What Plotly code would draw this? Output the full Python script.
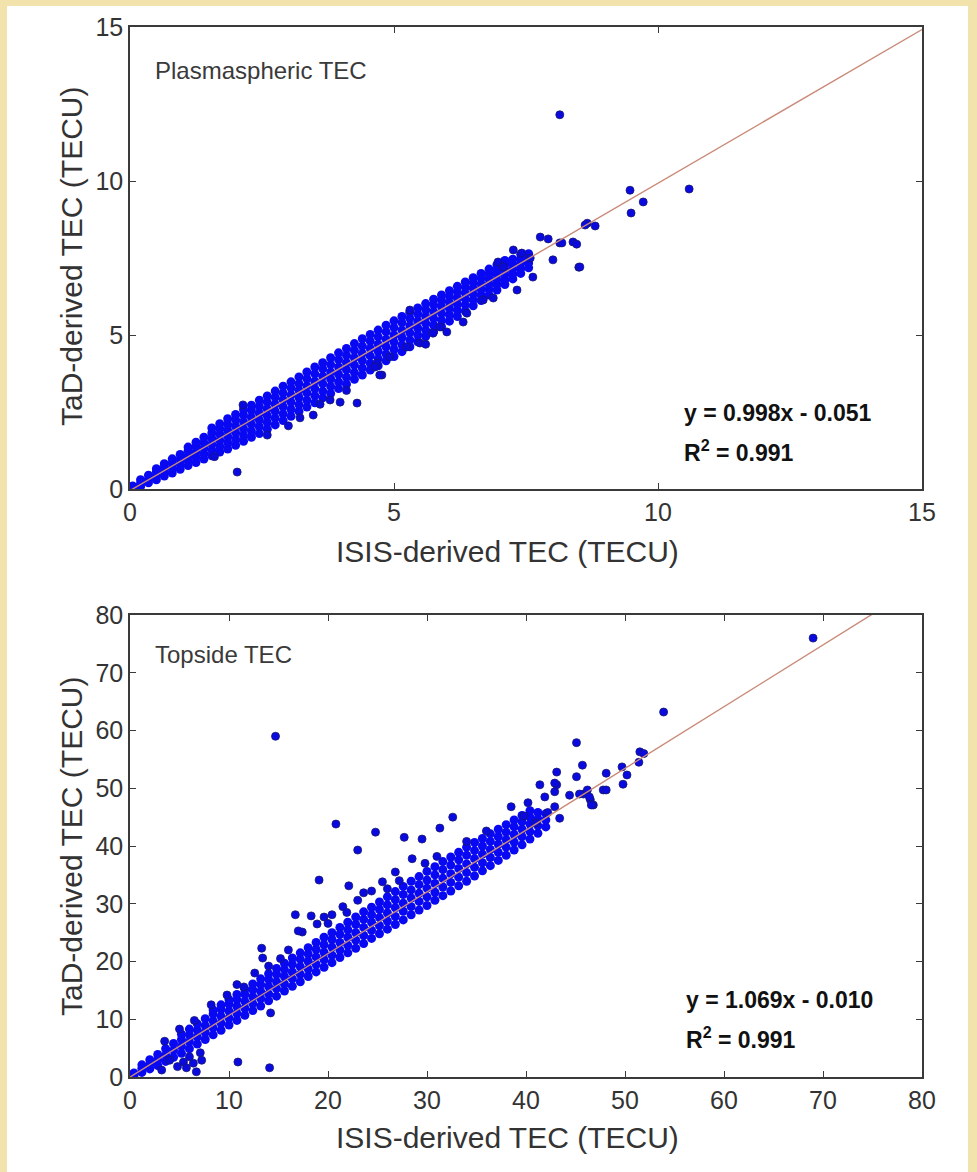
import plotly.graph_objects as go

# ---------------- data ----------------
# Panel 1: plasmaspheric TEC, dense band given as x columns with their y values
PL_COL_X = [0.05, 0.2, 0.35, 0.5, 0.65, 0.8, 0.95, 1.1, 1.25, 1.4, 1.55, 1.7, 1.85, 2.0,
            2.15, 2.3, 2.45, 2.6, 2.75, 2.9, 3.05, 3.2, 3.35, 3.5, 3.65, 3.8, 3.95, 4.1,
            4.25, 4.4, 4.55, 4.7, 4.85, 5.0, 5.15, 5.3, 5.45, 5.6, 5.75, 5.9, 6.05, 6.2,
            6.35, 6.5, 6.65, 6.8, 6.95, 7.1, 7.25, 7.4, 7.55]
PL_COL_Y = [
    [0.02, 0.1], [0.08, 0.18, 0.3], [0.2, 0.32, 0.45], [0.3, 0.43, 0.56, 0.66],
    [0.42, 0.56, 0.7, 0.82], [0.52, 0.68, 0.84, 0.98], [0.64, 0.8, 0.96, 1.12],
    [0.76, 0.92, 1.08, 1.24, 1.36], [0.86, 1.03, 1.2, 1.37, 1.52],
    [0.97, 1.14, 1.32, 1.5, 1.68], [1.08, 1.26, 1.45, 1.64, 1.82, 1.98],
    [1.2, 1.38, 1.58, 1.78, 1.96, 2.12], [1.3, 1.5, 1.7, 1.9, 2.1, 2.28],
    [1.42, 1.62, 1.83, 2.04, 2.25, 2.42], [1.55, 1.75, 1.96, 2.18, 2.4, 2.58],
    [1.68, 1.88, 2.1, 2.32, 2.55, 2.72], [1.8, 2.02, 2.24, 2.46, 2.68, 2.88],
    [1.94, 2.16, 2.38, 2.6, 2.82, 3.02], [2.08, 2.3, 2.52, 2.75, 2.98, 3.18],
    [2.22, 2.44, 2.67, 2.9, 3.12, 3.34], [2.36, 2.58, 2.82, 3.05, 3.28, 3.48],
    [2.52, 2.74, 2.97, 3.2, 3.42, 3.64], [2.66, 2.88, 3.12, 3.35, 3.58, 3.8],
    [2.8, 3.03, 3.26, 3.5, 3.74, 3.96], [2.96, 3.18, 3.42, 3.66, 3.9, 4.1],
    [3.1, 3.33, 3.57, 3.8, 4.04, 4.26], [3.26, 3.48, 3.72, 3.96, 4.2, 4.42],
    [3.4, 3.63, 3.87, 4.1, 4.34, 4.56], [3.56, 3.78, 4.02, 4.26, 4.5, 4.72],
    [3.7, 3.93, 4.17, 4.4, 4.64, 4.88], [3.86, 4.08, 4.32, 4.56, 4.8, 5.02],
    [4.0, 4.23, 4.47, 4.7, 4.94, 5.16], [4.16, 4.38, 4.62, 4.86, 5.1, 5.32],
    [4.3, 4.53, 4.77, 5.0, 5.24, 5.46], [4.46, 4.68, 4.92, 5.16, 5.4, 5.6],
    [4.62, 4.84, 5.07, 5.3, 5.54, 5.74], [4.78, 5.0, 5.22, 5.45, 5.68, 5.88],
    [4.95, 5.16, 5.38, 5.6, 5.82, 6.02], [5.1, 5.32, 5.54, 5.76, 5.98, 6.16],
    [5.27, 5.48, 5.7, 5.92, 6.12, 6.3], [5.45, 5.65, 5.86, 6.06, 6.26, 6.44],
    [5.6, 5.8, 6.0, 6.2, 6.4, 6.58], [5.78, 5.98, 6.17, 6.36, 6.55, 6.72],
    [5.95, 6.14, 6.33, 6.52, 6.7, 6.86], [6.12, 6.3, 6.48, 6.66, 6.84, 7.0],
    [6.3, 6.48, 6.65, 6.82, 6.98, 7.14], [6.46, 6.64, 6.8, 6.97, 7.12, 7.28],
    [6.64, 6.8, 6.96, 7.12, 7.28, 7.42], [6.82, 6.98, 7.14, 7.3, 7.46],
    [7.0, 7.16, 7.32, 7.48, 7.62], [7.18, 7.34, 7.5, 7.64]]
# Panel 1: scattered points
PL_SC_X = [3.22, 3.47, 3.79, 3.98, 4.30, 4.77, 4.68, 5.49, 5.74, 6.31, 6.38, 6.69, 5.30,
           2.14, 2.03, 4.73, 4.64, 4.92, 5.24, 5.87, 6.88, 7.33, 7.63, 8.01, 8.50, 6.97,
           7.77, 7.92, 8.14, 8.39, 8.66, 8.81, 7.42, 7.58, 7.26, 7.07, 9.47, 9.72, 9.49,
           10.59, 8.62, 8.46, 8.18, 8.52, 8.14, 2.6, 3.0, 1.6, 3.6, 4.1, 5.6, 6.0]
PL_SC_Y = [2.31, 2.40, 2.89, 2.82, 2.79, 3.70, 4.09, 4.74, 5.06, 5.42, 5.71, 6.14, 5.81,
           2.73, 0.55, 3.70, 3.96, 4.29, 4.61, 5.26, 6.20, 6.46, 6.88, 7.44, 7.20, 7.37,
           8.18, 8.12, 7.99, 8.02, 8.63, 8.54, 7.66, 7.50, 7.76, 7.21, 9.70, 9.32, 8.96,
           9.74, 8.57, 7.95, 7.99, 7.21, 12.15, 1.75, 2.05, 1.05, 2.75, 3.2, 4.7, 5.1]

# Panel 2: topside TEC, dense band as x columns with their y values
TS_COL_X = [0.4, 1.2, 2.0, 2.8, 3.6, 4.4, 5.2, 6.0, 6.8, 7.6, 8.4, 9.2, 10.0, 10.8,
            11.6, 12.4, 13.2, 14.0, 14.8, 15.6, 16.4, 17.2, 18.0, 18.8, 19.6, 20.4,
            21.2, 22.0, 22.8, 23.6, 24.4, 25.2, 26.0, 26.8, 27.6, 28.4, 29.2, 30.0,
            30.8, 31.6, 32.4, 33.2, 34.0, 34.8, 35.6, 36.4, 37.2, 38.0, 38.8, 39.6,
            40.4, 41.2, 42.0]
TS_COL_Y = [
    [0.2, 0.7], [0.8, 1.5, 2.1], [1.4, 2.2, 3.0], [2.0, 3.0, 3.9], [2.7, 3.8, 4.9],
    [3.4, 4.6, 5.8], [4.1, 5.3, 6.5, 7.4], [4.9, 6.1, 7.3, 8.3], [5.7, 6.9, 8.1, 9.2],
    [6.5, 7.7, 8.9, 10.1], [7.3, 8.5, 9.7, 10.9, 11.6], [8.1, 9.3, 10.5, 11.7, 12.5],
    [9.0, 10.2, 11.4, 12.6, 13.4], [9.8, 11.0, 12.2, 13.4, 14.3],
    [10.7, 11.9, 13.1, 14.3, 15.2], [11.5, 12.7, 13.9, 15.1, 16.1],
    [12.3, 13.6, 14.8, 16.0, 17.0], [13.2, 14.4, 15.7, 16.9, 17.9],
    [14.0, 15.3, 16.5, 17.8, 18.8], [14.9, 16.1, 17.4, 18.6, 19.7],
    [15.7, 17.0, 18.2, 19.5, 20.6], [16.5, 17.8, 19.1, 20.4, 21.5],
    [17.4, 18.7, 20.0, 21.3, 22.4], [18.2, 19.5, 20.8, 22.1, 23.3],
    [19.0, 20.3, 21.6, 22.9, 24.2], [19.8, 21.1, 22.5, 23.8, 25.0],
    [20.7, 22.0, 23.3, 24.7, 25.9], [21.5, 22.8, 24.2, 25.5, 26.8],
    [22.3, 23.7, 25.0, 26.4, 27.7], [23.1, 24.5, 25.9, 27.3, 28.6],
    [24.0, 25.4, 26.8, 28.1, 29.4], [24.8, 26.2, 27.6, 29.0, 30.3],
    [25.6, 27.0, 28.4, 29.8, 31.2], [26.4, 27.8, 29.3, 30.7, 32.1],
    [27.2, 28.7, 30.1, 31.6, 33.0], [28.1, 29.5, 31.0, 32.4, 33.9],
    [28.9, 30.4, 31.8, 33.3, 34.7], [29.7, 31.2, 32.7, 34.1, 35.6],
    [30.6, 32.0, 33.5, 35.0, 36.4], [31.4, 32.9, 34.4, 35.9, 37.3],
    [32.2, 33.7, 35.2, 36.7, 38.1], [33.1, 34.6, 36.1, 37.6, 38.9],
    [33.9, 35.4, 36.9, 38.4, 39.8], [34.8, 36.3, 37.8, 39.2, 40.6],
    [35.7, 37.1, 38.6, 40.0, 41.3], [36.6, 38.0, 39.4, 40.8, 42.1],
    [37.5, 38.9, 40.3, 41.6, 42.9], [38.4, 39.8, 41.1, 42.4, 43.7],
    [39.3, 40.7, 42.0, 43.3, 44.5], [40.2, 41.6, 42.9, 44.2, 45.3],
    [41.2, 42.5, 43.8, 45.0, 46.1], [42.2, 43.5, 44.7, 45.8], [43.3, 44.5, 45.6]]
# Panel 2: scattered points
TS_SC_X = [14.7, 20.8, 24.8, 23.0, 27.7, 29.5, 31.3, 32.6, 19.1, 22.1, 23.6, 24.4, 16.7,
           18.3, 20.4, 19.6, 17.4, 16.0, 13.3, 13.4, 17.0, 18.9, 21.5, 25.5, 26.8, 28.5,
           11.5, 9.8, 8.2, 12.6, 15.2, 14.0, 6.5, 5.0, 3.5, 10.8,
           14.2, 10.9, 14.1, 7.1, 7.24, 6.4, 5.4, 5.7, 6.7, 4.0, 6.0, 4.8, 3.2,
           38.5, 41.4, 43.1, 45.1, 45.7, 45.1, 43.1, 41.9, 44.4, 43.4, 46.5, 46.8, 45.8,
           69.0, 53.9, 49.7, 51.5, 51.9, 51.4, 50.2, 49.8, 48.1, 47.8, 48.1, 46.2, 46.4,
           46.6, 45.4, 42.9, 42.9, 42.9, 40.2, 39.8, 41.0, 42.2,
           20.0, 21.9, 23.0, 26.0, 27.2, 29.8, 31.0, 34.0, 36.0]
TS_SC_Y = [59.0, 43.8, 42.4, 39.3, 41.5, 41.2, 43.1, 45.0, 34.1, 33.1, 31.9, 32.2, 28.1,
           27.9, 28.1, 27.7, 25.1, 22.0, 22.3, 20.6, 25.3, 26.5, 29.5, 33.8, 35.5, 37.8,
           15.6, 14.2, 12.5, 18.0, 20.5, 19.2, 9.8, 8.3, 6.2, 16.0,
           11.1, 2.6, 1.6, 4.2, 2.9, 2.4, 2.6, 1.6, 0.9, 2.9, 3.5, 1.8, 1.2,
           46.8, 50.6, 52.8, 57.9, 54.0, 52.0, 50.6, 48.5, 48.8, 44.8, 48.0, 47.1, 49.0,
           76.0, 63.2, 53.7, 56.3, 56.0, 54.5, 52.3, 50.7, 52.6, 49.7, 49.7, 49.7, 48.5,
           47.1, 49.0, 46.8, 50.9, 49.4, 47.5, 45.2, 44.0, 45.8,
           26.6, 28.5, 30.6, 32.6, 34.0, 37.0, 38.2, 40.8, 42.6]

# regression lines  y = a x + b
PL_FIT = (0.998, -0.051)
TS_FIT = (1.069, -0.010)
PL_XMAX, TS_XMAX = 15, 80

# tick labels
PL_TICKS = [0, 5, 10, 15]
TS_TICKS = [0, 10, 20, 30, 40, 50, 60, 70, 80]

# ---------------- figure ----------------
W, H = 977, 1172
ML, MR, MT, MB = 130, 55, 27, 95
PW, PH = W - ML - MR, H - MT - MB

def flatten(cx, cy):
    xs, ys = [], []
    for x, col in zip(cx, cy):
        for y in col:
            xs.append(x)
            ys.append(y)
    return xs, ys

FONT = "Liberation Sans, Arial, sans-serif"
MARK_BAND = dict(size=9, color="#0808f2", line=dict(width=0))
MARK_SC = dict(size=8, color="#0a0ae0", line=dict(width=0.8, color="#161670"))
LINE_COL = "#c98a78"
AX_COL = "#3a3a3a"
TXT_COL = "#333333"

fig = go.Figure()

pbx, pby = flatten(PL_COL_X, PL_COL_Y)
tbx, tby = flatten(TS_COL_X, TS_COL_Y)

for xs, ys, ax, mk in [(pbx, pby, ("x", "y"), MARK_BAND),
                       (PL_SC_X, PL_SC_Y, ("x", "y"), MARK_SC),
                       (tbx, tby, ("x2", "y2"), MARK_BAND),
                       (TS_SC_X, TS_SC_Y, ("x2", "y2"), MARK_SC)]:
    fig.add_trace(go.Scatter(x=xs, y=ys, mode="markers", marker=mk,
                             xaxis=ax[0], yaxis=ax[1], showlegend=False, hoverinfo="skip"))

a, b = PL_FIT
fig.add_trace(go.Scatter(x=[0, PL_XMAX], y=[b, a * PL_XMAX + b], mode="lines",
                         line=dict(color=LINE_COL, width=1.4), xaxis="x", yaxis="y",
                         showlegend=False, hoverinfo="skip"))
a, b = TS_FIT
fig.add_trace(go.Scatter(x=[0, TS_XMAX], y=[b, a * TS_XMAX + b], mode="lines",
                         line=dict(color=LINE_COL, width=1.4), xaxis="x2", yaxis="y2",
                         showlegend=False, hoverinfo="skip"))

top1 = 1.0
bot1 = (1077 - 489) / PH
top2 = (1077 - 615) / PH
bot2 = 0.0

def axis(rng, ticks, domain, anchor):
    return dict(range=rng, tickvals=ticks, ticktext=[str(t) for t in ticks],
                domain=domain, anchor=anchor, showgrid=False, zeroline=False,
                showline=True, mirror="ticks", linecolor=AX_COL, linewidth=1.6,
                ticks="inside", ticklen=6, tickwidth=1.3, tickcolor=AX_COL,
                tickfont=dict(family=FONT, size=25, color=TXT_COL),
                fixedrange=True)

fig.update_layout(
    width=W, height=H,
    margin=dict(l=ML, r=MR, t=MT, b=MB, autoexpand=False),
    paper_bgcolor="#f2e3ad", plot_bgcolor="white",
    xaxis=axis([0, PL_XMAX], PL_TICKS, [0, 1], "y"),
    yaxis=axis([0, 15], PL_TICKS, [bot1, top1], "x"),
    xaxis2=axis([0, TS_XMAX], TS_TICKS, [0, 1], "y2"),
    yaxis2=axis([0, 80], TS_TICKS, [bot2, top2], "x2"),
)

# white page area inside the beige frame
fig.add_shape(type="rect", xref="paper", yref="paper", layer="below",
              x0=(7 - ML) / PW, x1=(968 - ML) / PW,
              y0=(1077 - 1180) / PH, y1=(1077 - 6) / PH,
              fillcolor="white", line=dict(width=0))

def px_x(p):
    return (p - ML) / PW

def px_y(p):
    return (1077 - p) / PH

title_font = dict(family=FONT, size=30, color=TXT_COL)
for cy in (551, 1137):
    fig.add_annotation(x=px_x(507), y=px_y(cy), xref="paper", yref="paper",
                       text="ISIS-derived TEC (TECU)", showarrow=False,
                       xanchor="center", yanchor="middle", font=title_font)
for cy in (256, 846):
    fig.add_annotation(x=px_x(71), y=px_y(cy), xref="paper", yref="paper",
                       text="TaD-derived TEC (TECU)", showarrow=False, textangle=-90,
                       xanchor="center", yanchor="middle", font=title_font)

ann_font = dict(family=FONT, size=24, color="#3a3a3a")
eq_font = dict(family=FONT, size=23, color="#111111")
fig.add_annotation(x=0.44, y=13.6, xref="x", yref="y", text="Plasmaspheric TEC",
                   showarrow=False, xanchor="left", yanchor="middle", font=ann_font)
fig.add_annotation(x=2.3, y=73.2, xref="x2", yref="y2", text="Topside TEC",
                   showarrow=False, xanchor="left", yanchor="middle", font=ann_font)
fig.add_annotation(x=10.45, y=2.47, xref="x", yref="y", text="<b>y = 0.998x - 0.051</b>",
                   showarrow=False, xanchor="left", yanchor="middle", font=eq_font)
fig.add_annotation(x=10.45, y=1.23, xref="x", yref="y", text="<b>R<sup>2</sup> = 0.991</b>",
                   showarrow=False, xanchor="left", yanchor="middle", font=eq_font)
fig.add_annotation(x=56.0, y=13.3, xref="x2", yref="y2", text="<b>y = 1.069x - 0.010</b>",
                   showarrow=False, xanchor="left", yanchor="middle", font=eq_font)
fig.add_annotation(x=56.0, y=6.8, xref="x2", yref="y2", text="<b>R<sup>2</sup> = 0.991</b>",
                   showarrow=False, xanchor="left", yanchor="middle", font=eq_font)

fig.write_html("out.html", config={"displayModeBar": False},
               post_script="document.body.style.margin='0px';")
